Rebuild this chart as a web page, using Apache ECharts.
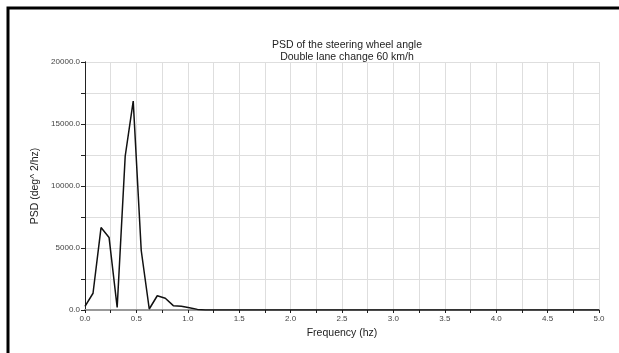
<!DOCTYPE html>
<html>
<head>
<meta charset="utf-8">
<script src="https://cdn.jsdelivr.net/npm/echarts@6/dist/echarts.min.js"></script>
<style>html,body{margin:0;padding:0;background:#fff;}#c{width:619px;height:353px;}</style>
</head>
<body>
<div id="c"></div>
<script>
var titleLines = ["PSD of the steering wheel angle", "Double lane change 60 km/h"];
var xName = "Frequency (hz)";
var yName = "PSD (deg^ 2/hz)";
var freqs = [0.0, 0.078, 0.156, 0.234, 0.313, 0.391, 0.469, 0.547, 0.625, 0.703, 0.781, 0.859, 0.938, 1.016, 1.094, 1.172, 2.0, 3.0, 4.0, 5.0];
var psd =   [300, 1350, 6650, 5850, 200, 12400, 16850, 4800, 80, 1150, 950, 350, 300, 180, 50, 0, 0, 0, 0, 0];
var xTicks = [0.0, 0.5, 1.0, 1.5, 2.0, 2.5, 3.0, 3.5, 4.0, 4.5, 5.0];
var yTicks = [0.0, 5000.0, 10000.0, 15000.0, 20000.0];

var data = freqs.map(function (f, i) { return [f, psd[i]]; });
var font = "Liberation Sans, Arial, sans-serif";
function isTick(list, v) { return list.some(function (t) { return Math.abs(t - v) < 1e-6; }); }

var chart = echarts.init(document.getElementById('c'), null, {renderer: 'canvas'});
chart.setOption({
  animation: false,
  backgroundColor: '#fff',
  title: {
    text: titleLines.join('\n'),
    left: 342, top: 34, textAlign: 'center',
    textStyle: {fontFamily: font, fontSize: 10.5, fontWeight: 'normal', color: '#222', lineHeight: 12}
  },
  grid: {left: 85, right: 20, top: 62, bottom: 43, containLabel: false},
  graphic: [{
    type: 'polyline', silent: true,
    shape: {points: [[8, 353], [8, 8], [619, 8]]},
    style: {stroke: '#000', lineWidth: 3, fill: null}
  }],
  xAxis: [{
    type: 'value', min: 0, max: 5, interval: 0.25,
    name: xName, nameLocation: 'middle', nameGap: 17,
    nameTextStyle: {fontFamily: font, fontSize: 10.5, color: '#222'},
    axisLine: {show: true, onZero: false, lineStyle: {color: '#222', width: 1}},
    axisTick: {show: true, length: 3, lineStyle: {color: '#222'}},
    axisLabel: {fontFamily: font, fontSize: 8, color: '#444', margin: 5,
      formatter: function (v) { return isTick(xTicks, v) ? v.toFixed(1) : ''; }},
    splitLine: {show: true, lineStyle: {color: '#dedede', width: 1}}
  }, {
    type: 'value', min: 0, max: 5, position: 'top',
    axisLine: {show: true, lineStyle: {color: '#999', width: 2}},
    axisTick: {show: false}, axisLabel: {show: false}, splitLine: {show: false}
  }],
  yAxis: [{
    type: 'value', min: 0, max: 20000, interval: 2500,
    name: yName, nameLocation: 'middle', nameGap: 40,
    nameTextStyle: {fontFamily: font, fontSize: 10.5, color: '#222'},
    axisLine: {show: true, onZero: false, lineStyle: {color: '#222', width: 1}},
    axisTick: {show: true, length: 4, lineStyle: {color: '#222'}},
    axisLabel: {fontFamily: font, fontSize: 8, color: '#444', margin: 5,
      formatter: function (v) { return isTick(yTicks, v) ? v.toFixed(1) : ''; }},
    splitLine: {show: true, lineStyle: {color: '#dedede', width: 1}}
  }, {
    type: 'value', min: 0, max: 20000, position: 'right',
    axisLine: {show: true, lineStyle: {color: '#222', width: 1}},
    axisTick: {show: false}, axisLabel: {show: false}, splitLine: {show: false}
  }],
  series: [{
    type: 'line', data: data, showSymbol: false, symbol: 'none',
    lineStyle: {color: '#111', width: 1.5}, silent: true
  }]
});
</script>
</body>
</html>
